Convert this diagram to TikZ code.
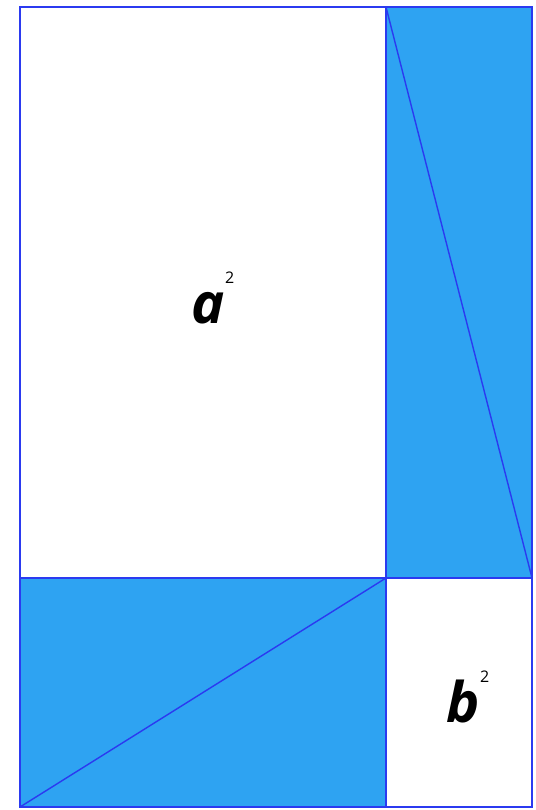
\documentclass[tikz,border=0pt]{standalone}
\usepackage{fontspec}
\setmainfont{Open Sans}
\definecolor{fillblue}{HTML}{2EA3F2}
\definecolor{lineblue}{HTML}{2B3AF0}
\begin{document}
\begin{tikzpicture}[x=1pt,y=-1pt,
  edge/.style={draw=lineblue,line width=1.8pt},
  diag/.style={draw=lineblue,line width=1.4pt},
  lbl/.style={font=\fontsize{56}{60}\selectfont\bfseries\itshape,inner sep=0pt}]
\useasboundingbox (0,0) rectangle (535,810);
\coordinate (TL) at (20,7);
\coordinate (TM) at (386,7);
\coordinate (TR) at (532,7);
\coordinate (ML) at (20,578);
\coordinate (C) at (386,578);
\coordinate (MR) at (532,578);
\coordinate (BL) at (20,807);
\coordinate (BM) at (386,807);
\coordinate (BR) at (532,807);
\fill[fillblue] (TM) rectangle (MR);
\fill[fillblue] (ML) rectangle (BM);
\draw[diag] (TM) -- (MR);
\draw[diag] (BL) -- (C);
\draw[edge] (TL) rectangle (BR);
\draw[edge] (TM) -- (BM);
\draw[edge] (ML) -- (MR);
\node[lbl] (a) at (213,298) {a\raisebox{0.7em}{\fontsize{16}{18}\selectfont\mdseries\upshape 2}};
\node[lbl] (b) at (468,697) {b\raisebox{0.7em}{\fontsize{16}{18}\selectfont\mdseries\upshape 2}};
\end{tikzpicture}
\end{document}
